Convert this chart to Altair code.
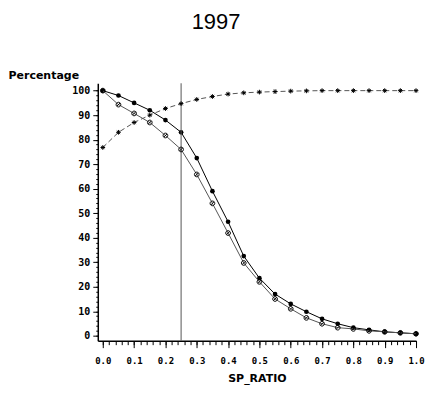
import altair as alt
import pandas as pd

x_vals = [0.0, 0.05, 0.1, 0.15, 0.2, 0.25, 0.3, 0.35, 0.4, 0.45, 0.5,
          0.55, 0.6, 0.65, 0.7, 0.75, 0.8, 0.85, 0.9, 0.95, 1.0]
filled_vals = [100, 98, 95, 92, 88, 83, 72.5, 59, 46.5, 32.5, 23.5,
               17, 13, 9.8, 6.9, 4.9, 3.3, 2.4, 1.6, 1.2, 0.8]
open_vals = [100, 94.3, 90.7, 87, 81.7, 76, 65.8, 54, 41.9, 29.7, 22,
             15, 11, 7.3, 4.9, 3.3, 2.8, 2.0, 1.6, 1.2, 0.8]
star_vals = [76.8, 83, 87, 90, 92.7, 94.7, 96.4, 97.6, 98.6, 99.1, 99.4,
             99.6, 99.8, 99.9, 100, 100, 100, 100, 100, 100, 100]
ref_x = [0.25]

x_major = [round(i * 0.1, 1) for i in range(11)]
x_minor = [round(i * 0.02, 2) for i in range(51)]
y_major = list(range(0, 101, 10))
y_minor = list(range(0, 101, 2))

rows = []
for name, vals in [("filled", filled_vals), ("open", open_vals), ("star", star_vals)]:
    for xv, yv in zip(x_vals, vals):
        rows.append({"x": xv, "y": yv, "s": name})
df = pd.DataFrame(rows)

FONT = "DejaVu Sans Mono"

xscale = alt.Scale(domain=[-0.016, 1.0], nice=False, zero=False)
yscale = alt.Scale(domain=[-2, 103], nice=False, zero=False)

xaxis = alt.Axis(
    values=x_major, format=".1f", tickSize=7,
    labelOverlap=False, labelFlush=False, grid=False,
    labelFont=FONT, labelFontWeight="bold", labelFontSize=9, labelColor="black",
    labelPadding=9, domainColor="black", domainWidth=1.5, tickColor="black",
    title="SP_RATIO", titleFont="DejaVu Sans", titleFontWeight="bold", titleFontSize=11,
    titleColor="black", titlePadding=7,
)
yaxis = alt.Axis(
    values=y_major, format="d", tickSize=5,
    labelOverlap=False, labelFlush=False, grid=False,
    labelFont=FONT, labelFontWeight="bold", labelFontSize=10, labelColor="black",
    labelPadding=3, domainColor="black", domainWidth=1.5, tickColor="black",
    title="Percentage", titleFont="DejaVu Sans", titleFontWeight="bold", titleFontSize=11,
    titleColor="black", titleAngle=0, titleAlign="left", titleBaseline="alphabetic",
    titleX=-90, titleY=-5,
)
xaxis_minor = alt.Axis(
    orient="bottom", values=x_minor, tickSize=4, labels=False, domain=False,
    grid=False, title=None, tickColor="black",
)
yaxis_minor = alt.Axis(
    orient="left", values=y_minor, tickSize=2, labels=False, domain=False,
    grid=False, title=None, tickColor="black",
)

base = alt.Chart(df)

star_path = "M-1,0L1,0M0,-1L0,1M-0.7,-0.7L0.7,0.7M-0.7,0.7L0.7,-0.7"
open_path = "M-1,0A1,1,0,1,1,1,0A1,1,0,1,1,-1,0M-0.7,0.7L0.7,-0.7"

line_filled = base.transform_filter("datum.s == 'filled'").mark_line(
    color="black", strokeWidth=1).encode(
    x=alt.X("x:Q", scale=xscale, axis=xaxis),
    y=alt.Y("y:Q", scale=yscale, axis=yaxis))
pts_filled = base.transform_filter("datum.s == 'filled'").mark_point(
    shape="circle", filled=True, color="black", size=22, opacity=1).encode(
    x=alt.X("x:Q", axis=xaxis_minor), y=alt.Y("y:Q", axis=yaxis_minor))

line_open = base.transform_filter("datum.s == 'open'").mark_line(
    color="#555555", strokeWidth=1).encode(x=alt.X("x:Q", axis=None), y=alt.Y("y:Q", axis=None))
pts_open = base.transform_filter("datum.s == 'open'").mark_point(
    shape=open_path, filled=False, color="black", size=22, strokeWidth=1, opacity=1).encode(
    x=alt.X("x:Q", axis=None), y=alt.Y("y:Q", axis=None))

line_star = base.transform_filter("datum.s == 'star'").mark_line(
    color="#555555", strokeWidth=1, strokeDash=[5, 3]).encode(
    x=alt.X("x:Q", axis=None), y=alt.Y("y:Q", axis=None))
pts_star = base.transform_filter("datum.s == 'star'").mark_point(
    shape=star_path, filled=False, color="black", size=22, strokeWidth=1, opacity=1).encode(
    x=alt.X("x:Q", axis=None), y=alt.Y("y:Q", axis=None))

rule = alt.Chart(pd.DataFrame({"x": ref_x})).mark_rule(
    color="#555555", strokeWidth=1).encode(x=alt.X("x:Q", axis=None))

chart = alt.layer(
    line_filled, pts_filled, line_open, line_star, rule, pts_open, pts_star
).resolve_axis(x="independent", y="independent").properties(
    width=319, height=258,
    padding={"left": 0, "top": 3, "right": 0, "bottom": 3},
    title=alt.TitleParams("1997", font="Liberation Sans", fontSize=22, fontWeight="normal",
                          color="black", anchor="middle", frame="bounds", offset=35),
).configure(background="white").configure_view(stroke=None)

chart.save("out.html", embed_options={"renderer": "svg", "actions": False})
